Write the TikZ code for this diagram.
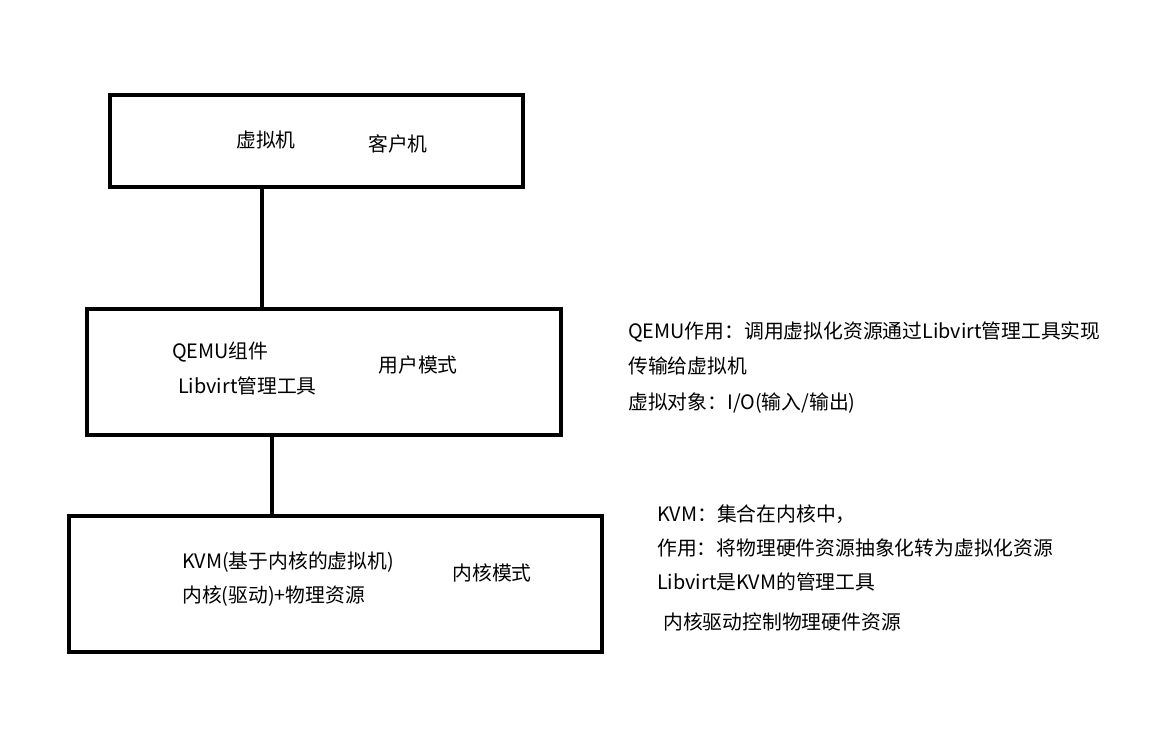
\documentclass[tikz,border=0pt]{standalone}
\usepackage{fontspec}
\setmainfont{Noto Sans CJK SC}
\begin{document}
\begin{tikzpicture}[x=1pt,y=-1pt,
  box/.style={draw,line width=3.5pt},
  conn/.style={line width=3.5pt},
  lbl/.style={inner sep=0pt,font=\fontsize{19.8}{22}\selectfont},
  lt/.style={lbl,anchor=west}]
\useasboundingbox[fill=white] (0,0) rectangle (1150,731);
\node[box,minimum width=413pt,minimum height=92pt] (b1) at (316.5,141) {};
\node[box,minimum width=474pt,minimum height=126pt] (b2) at (324,372) {};
\node[box,minimum width=533pt,minimum height=136pt] (b3) at (335.5,584) {};
\coordinate (c1) at (262,187);
\draw[conn] (b1.south -| c1) -- (b2.north -| c1);
\coordinate (c2) at (272,437);
\draw[conn] (b2.south -| c2) -- (b3.north -| c2);
\node[lbl] (t1) at (266,140) {虚拟机};
\node[lbl] (t2) at (398,144) {客户机};
\node[lt] (t3) at (172,352) {QEMU组件};
\node[lt] (t4) at (178,386) {Libvirt管理工具};
\node[lbl] (t5) at (418,365) {用户模式};
\node[lt] (t6) at (182,562) {KVM(基于内核的虚拟机)};
\node[lt] (t7) at (182,596) {内核(驱动)+物理资源};
\node[lbl] (t8) at (492,573) {内核模式};
\node[lt] (r1) at (628,332) {QEMU作用：调用虚拟化资源通过Libvirt管理工具实现};
\node[lt] (r2) at (628,366) {传输给虚拟机};
\node[lt] (r3) at (628,403) {虚拟对象：I/O(输入/输出)};
\node[lt] (r4) at (657,514) {KVM：集合在内核中，};
\node[lt] (r5) at (657,548) {作用：将物理硬件资源抽象化转为虚拟化资源};
\node[lt] (r6) at (657,582) {Libvirt是KVM的管理工具};
\node[lt] (r7) at (663,622) {内核驱动控制物理硬件资源};
\end{tikzpicture}
\end{document}
